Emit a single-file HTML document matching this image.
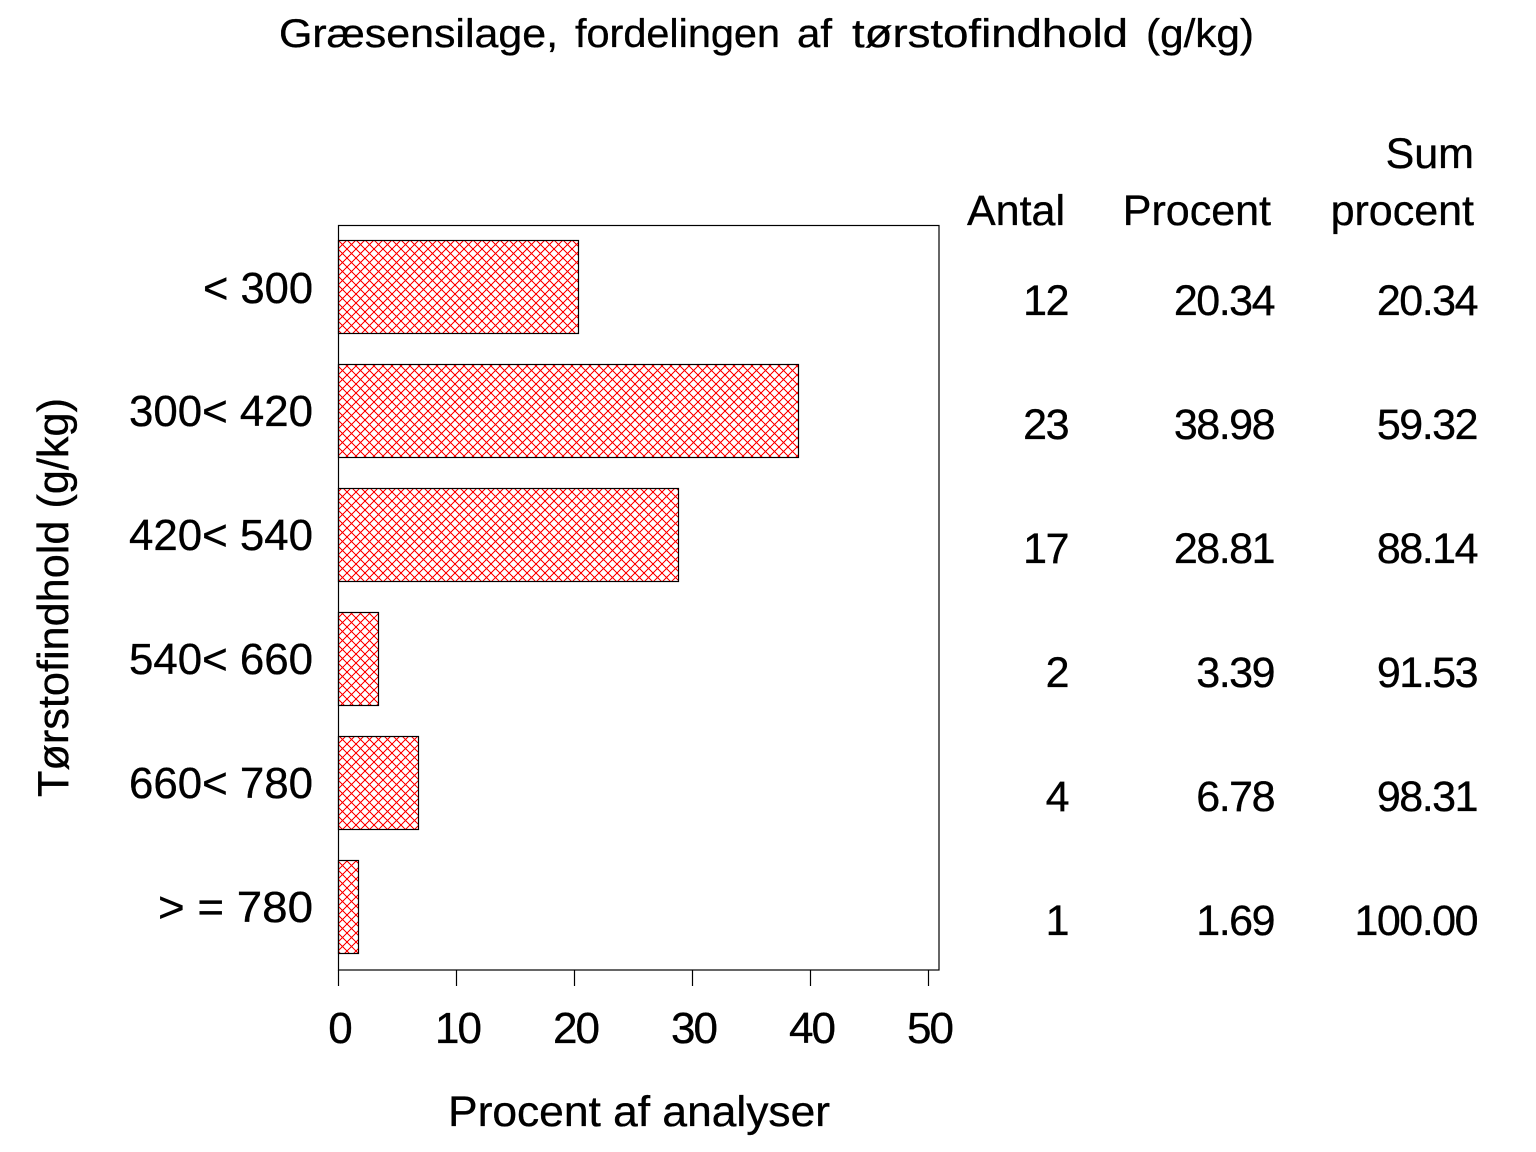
<!DOCTYPE html>
<html>
<head>
<meta charset="utf-8">
<style>
  html, body { margin: 0; padding: 0; background: #fff; }
  svg { display: block; }
  text { font-family: "Liberation Sans", Arial, sans-serif; fill: #000; stroke: #000; stroke-width: 0.35px; }
</style>
</head>
<body>
<svg width="1536" height="1152" viewBox="0 0 1536 1152" xmlns="http://www.w3.org/2000/svg">
  <defs>
    <pattern id="hatch" width="9" height="9" patternUnits="userSpaceOnUse" x="338" y="240">
      <path d="M0,0L9,9M9,0L0,9" stroke="#ff0000" stroke-width="1" shape-rendering="crispEdges" fill="none"/>
    </pattern>
  </defs>
  <rect x="0" y="0" width="1536" height="1152" fill="#fff"/>

  <!-- Title -->
  <g font-size="40">
    <text x="279" y="47" textLength="279" lengthAdjust="spacingAndGlyphs">Græsensilage,</text>
    <text x="575" y="47" textLength="205" lengthAdjust="spacingAndGlyphs">fordelingen</text>
    <text x="797" y="47" textLength="35" lengthAdjust="spacingAndGlyphs">af</text>
    <text x="852" y="47" textLength="276" lengthAdjust="spacingAndGlyphs">tørstofindhold</text>
    <text x="1146" y="47" textLength="108" lengthAdjust="spacingAndGlyphs">(g/kg)</text>
  </g>

  <!-- Y axis label -->
  <text transform="translate(68,797) rotate(-90)" x="0" y="0" font-size="44" textLength="399" lengthAdjust="spacingAndGlyphs">Tørstofindhold  (g/kg)</text>

  <!-- Frame -->
  <rect x="338.5" y="225.5" width="600.5" height="744.5" fill="none" stroke="#000" stroke-width="1.2"/>

  <!-- Bars -->
  <g stroke="#000" stroke-width="1.2" fill="url(#hatch)">
    <rect x="338.5" y="240.5" width="240" height="93"/>
    <rect x="338.5" y="364.5" width="460" height="93"/>
    <rect x="338.5" y="488.5" width="340" height="93"/>
    <rect x="338.5" y="612.5" width="40" height="93"/>
    <rect x="338.5" y="736.5" width="80" height="93"/>
    <rect x="338.5" y="860.5" width="20" height="93"/>
  </g>

  <!-- Category labels -->
  <g font-size="44">
    <text x="203" y="303" textLength="110" lengthAdjust="spacingAndGlyphs">&lt; 300</text>
    <text x="129" y="426" textLength="184" lengthAdjust="spacingAndGlyphs">300&lt; 420</text>
    <text x="129" y="550" textLength="184" lengthAdjust="spacingAndGlyphs">420&lt; 540</text>
    <text x="129" y="674" textLength="184" lengthAdjust="spacingAndGlyphs">540&lt; 660</text>
    <text x="129" y="798" textLength="184" lengthAdjust="spacingAndGlyphs">660&lt; 780</text>
    <text x="158" y="922" textLength="155" lengthAdjust="spacingAndGlyphs">&gt; = 780</text>
  </g>

  <!-- X ticks -->
  <g stroke="#000" stroke-width="1.2">
    <line x1="338.5" y1="970" x2="338.5" y2="986"/>
    <line x1="456.5" y1="970" x2="456.5" y2="986"/>
    <line x1="574.5" y1="970" x2="574.5" y2="986"/>
    <line x1="692.5" y1="970" x2="692.5" y2="986"/>
    <line x1="810.5" y1="970" x2="810.5" y2="986"/>
    <line x1="928.5" y1="970" x2="928.5" y2="986"/>
  </g>
  <g font-size="44" text-anchor="middle" letter-spacing="-2">
    <text x="339.5" y="1043">0</text>
    <text x="457.5" y="1043">10</text>
    <text x="575.5" y="1043">20</text>
    <text x="693.5" y="1043">30</text>
    <text x="811.5" y="1043">40</text>
    <text x="929.5" y="1043">50</text>
  </g>

  <!-- X axis title -->
  <text x="448" y="1126" font-size="43" textLength="382" lengthAdjust="spacingAndGlyphs">Procent  af  analyser</text>

  <!-- Table headers -->
  <g font-size="43" text-anchor="end">
    <text x="1474" y="168">Sum</text>
    <text x="1065" y="225">Antal</text>
    <text x="1271" y="225">Procent</text>
    <text x="1474" y="225">procent</text>
  </g>

  <!-- Table values -->
  <g font-size="43" text-anchor="end" letter-spacing="-1.5">
    <text x="1068" y="315">12</text>
    <text x="1274" y="315">20.34</text>
    <text x="1477" y="315">20.34</text>

    <text x="1068" y="439">23</text>
    <text x="1274" y="439">38.98</text>
    <text x="1477" y="439">59.32</text>

    <text x="1068" y="563">17</text>
    <text x="1274" y="563">28.81</text>
    <text x="1477" y="563">88.14</text>

    <text x="1068" y="687">2</text>
    <text x="1274" y="687">3.39</text>
    <text x="1477" y="687">91.53</text>

    <text x="1068" y="811">4</text>
    <text x="1274" y="811">6.78</text>
    <text x="1477" y="811">98.31</text>

    <text x="1068" y="935">1</text>
    <text x="1274" y="935">1.69</text>
    <text x="1477" y="935">100.00</text>
  </g>
</svg>
</body>
</html>
